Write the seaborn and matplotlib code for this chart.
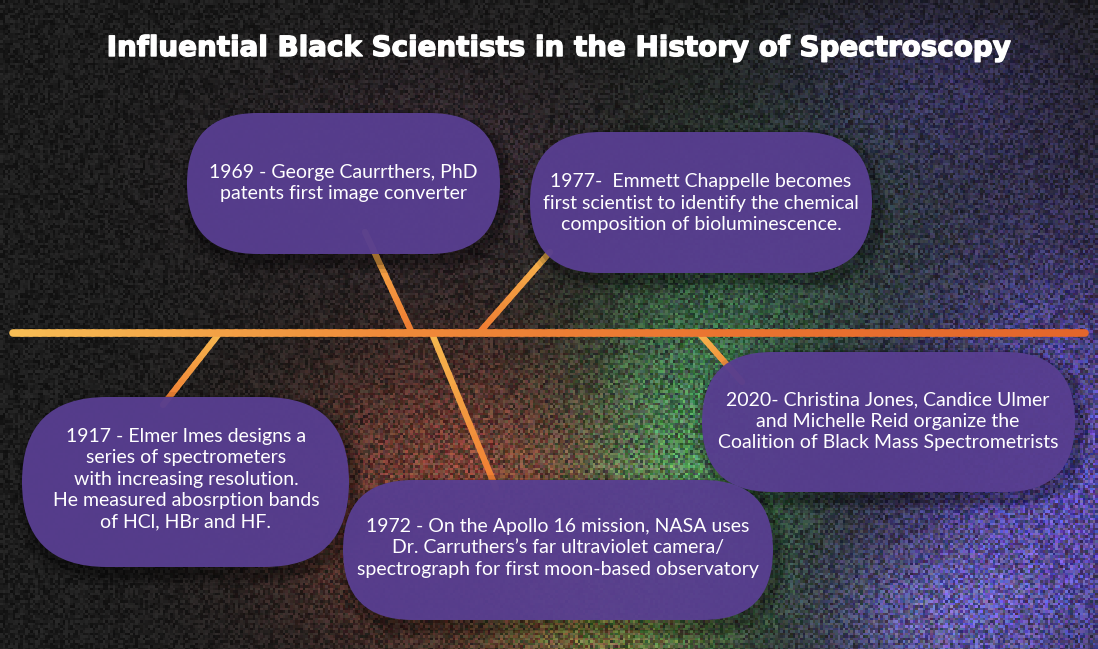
import numpy as np
import pandas as pd
import seaborn as sns
import matplotlib.pyplot as plt
import matplotlib.patheffects as pe
from matplotlib.patches import FancyBboxPatch
from matplotlib.colors import LinearSegmentedColormap

# timeline content
years = ["1917", "1969", "1972", "1977", "2020"]
descriptions = [
    "1917 - Elmer Imes designs a\nseries of spectrometers\nwith increasing resolution.\nHe measured abosrption bands\nof HCl, HBr and HF.",
    "1969 - George Caurrthers, PhD\npatents first image converter",
    "1972 - On the Apollo 16 mission, NASA uses\nDr. Carruthers\u2019s far ultraviolet camera/\nspectrograph for first moon-based observatory",
    "1977-  Emmett Chappelle becomes\nfirst scientist to identify the chemical\ncomposition of bioluminescence.",
    "2020- Christina Jones, Candice Ulmer\nand Michelle Reid organize the\nCoalition of Black Mass Spectrometrists",
]
title = "Influential Black Scientists in the History of Spectroscopy"

# layout in pixel space (x0, y0, x1, y1) for each box, plus the connector to the axis
boxes = [(22, 397, 349, 567), (187, 113, 500, 254), (343, 480, 773, 620),
         (530, 132, 872, 273), (702, 352, 1075, 492)]
text_pos = [(186, 479), (343, 183), (558, 548), (701, 203), (888, 421)]
connectors = [((218, 335), (163, 405)), ((365, 232), (412, 333)),
              ((433, 336), (496, 488)), ((550, 252), (479, 333)),
              ((699, 333), (742, 382))]

W, H = 1098, 649
sns.set_theme(style="dark")
plt.rcParams["font.family"] = ["Lato", "DejaVu Sans"]

fig = plt.figure(figsize=(W / 100, H / 100), dpi=100)
ax = fig.add_axes([0, 0, 1, 1])

# speckled, colourful background
yy, xx = np.mgrid[0:H, 0:W].astype(float)
def blob(cx, cy, sx, sy):
    return np.exp(-(((xx - cx) / sx) ** 2 + ((yy - cy) / sy) ** 2))
tint = np.zeros((H, W, 3))
for (cx, cy, sx, sy), col in [
    ((460, 500, 170, 150), (0.46, 0.19, 0.13)),
    ((430, 170, 180, 100), (0.12, 0.06, 0.09)),
    ((690, 470, 110, 180), (0.16, 0.44, 0.24)),
    ((600, 600, 110, 80), (0.34, 0.34, 0.11)),
    ((1060, 480, 160, 260), (0.30, 0.24, 0.66)),
    ((930, 90, 130, 90), (0.09, 0.07, 0.22)),
    ((920, 620, 110, 80), (0.22, 0.22, 0.38)),
    ((780, 250, 150, 150), (0.08, 0.17, 0.11)),
]:
    tint += blob(cx, cy, sx, sy)[..., None] * np.array(col)
bx, by = np.floor(xx / 2.5), np.floor(yy / 2.5)
def grain(a, b):
    return np.abs(np.modf(np.sin(bx * a + by * b) * 43758.5453)[0])
g0 = grain(12.9898, 78.233)
gc = np.stack([grain(39.35, 11.13), grain(27.17, 61.91), grain(93.98, 33.71)], axis=-1)
bg = 0.11 * (0.55 + 0.9 * g0)[..., None] + tint * (0.28 + 1.05 * (0.5 * g0[..., None] + 0.5 * gc))
ax.imshow(np.clip(bg, 0, 1), extent=(0, W, H, 0), zorder=0, interpolation="nearest")

# timeline with warm gradient
warm = LinearSegmentedColormap.from_list("warm", ["#f7bd55", "#f08c3a", "#ea7430", "#e4662b"])
n = 120
xs = np.linspace(13, 1085, n + 1)
tl = pd.DataFrame({"x": np.concatenate([xs[:-1], xs[1:]]),
                   "y": 333.0,
                   "seg": np.tile(np.arange(n), 2)})
sns.lineplot(data=tl, x="x", y="y", hue="seg", palette=list(warm(np.linspace(0, 1, n))),
             estimator=None, sort=False, linewidth=5.5, legend=False, ax=ax, zorder=3)

# connectors, yellow at the top fading to orange below
cwarm = LinearSegmentedColormap.from_list("cw", ["#f6b64e", "#ef7e33"])
for (p0, p1) in connectors:
    top, bot = (p0, p1) if p0[1] < p1[1] else (p1, p0)
    t = np.linspace(0, 1, 13)
    px = top[0] + (bot[0] - top[0]) * t
    py = top[1] + (bot[1] - top[1]) * t
    cd = pd.DataFrame({"x": np.concatenate([px[:-1], px[1:]]),
                       "y": np.concatenate([py[:-1], py[1:]]),
                       "seg": np.tile(np.arange(12), 2)})
    sns.lineplot(data=cd, x="x", y="y", hue="seg", palette=list(cwarm(np.linspace(0, 1, 12))),
                 estimator=None, sort=False, linewidth=4.5, legend=False, ax=ax, zorder=2)

# boxes with soft shadows
for (x0, y0, x1, y1), (tx, ty), txt in zip(boxes, text_pos, descriptions):
    h = y1 - y0
    for k, a in [(12, 0.08), (8, 0.12), (4, 0.18)]:
        ax.add_patch(FancyBboxPatch((x0 - k + 5, y0 - k + 7), x1 - x0 + 2 * k, h + 2 * k,
                                    boxstyle=f"round,pad=0,rounding_size={h / 2 + k}",
                                    fc="black", ec="none", alpha=a, zorder=4))
    ax.add_patch(FancyBboxPatch((x0, y0), x1 - x0, h,
                                boxstyle=f"round,pad=0,rounding_size={h / 2}",
                                fc="#593f92", ec="none", alpha=0.95, zorder=5))
    ax.text(tx, ty, txt, ha="center", va="center", color="white", fontsize=14,
            linespacing=1.3, zorder=6)

ax.text(559, 48, title, ha="center", va="center", color="white",
        fontsize=20, fontweight="bold", family="DejaVu Sans", zorder=6,
        path_effects=[pe.withStroke(linewidth=1.0, foreground="white")])

ax.set_xlim(0, W)
ax.set_ylim(H, 0)
ax.axis("off")
fig.savefig("out.png", dpi=100)
